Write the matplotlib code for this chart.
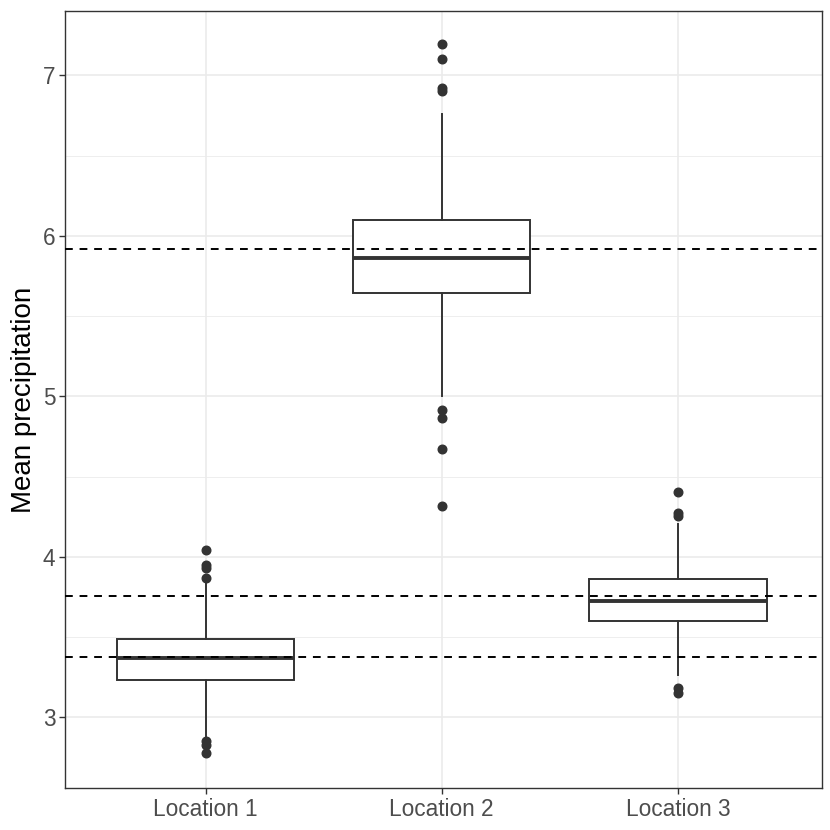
import numpy as np
import matplotlib
matplotlib.use("Agg")
import matplotlib.pyplot as plt

# values
locations = ["Location 1", "Location 2", "Location 3"]
q1 = [3.233, 5.642, 3.600]
medians = [3.367, 5.860, 3.725]
q3 = [3.488, 6.096, 3.862]
whisker_lo = [2.870, 5.002, 3.262]
whisker_hi = [3.856, 6.756, 4.206]
outliers = [
    [4.044, 3.950, 3.930, 3.870, 2.850, 2.830, 2.780],
    [7.196, 7.100, 6.920, 6.900, 4.914, 4.867, 4.669, 4.320],
    [4.402, 4.273, 4.252, 3.180, 3.155],
]
mean_lines = [5.919, 3.758, 3.377]

y_ticks = [3, 4, 5, 6, 7]
y_minor = [3.5, 4.5, 5.5, 6.5]

plt.rcParams["font.family"] = ["Liberation Sans", "DejaVu Sans"]

fig = plt.figure(figsize=(8.3, 8.3), dpi=100)
ax = fig.add_axes([0.0783, 0.0502, 0.9121, 0.9368])

positions = np.arange(1, len(locations) + 1)
stats = []
for i, name in enumerate(locations):
    stats.append({
        "label": name, "q1": q1[i], "med": medians[i], "q3": q3[i],
        "whislo": whisker_lo[i], "whishi": whisker_hi[i], "fliers": outliers[i],
    })

dark = "#333333"
ax.bxp(stats, positions=positions, widths=0.75, showcaps=False, patch_artist=True,
       boxprops=dict(facecolor="white", edgecolor=dark, linewidth=1.4),
       medianprops=dict(color=dark, linewidth=2.8, solid_capstyle="butt"),
       whiskerprops=dict(color=dark, linewidth=1.4),
       flierprops=dict(marker="o", markerfacecolor=dark, markeredgecolor=dark,
                       markersize=6.2, linestyle="none"),
       zorder=3)

for m in mean_lines:
    ax.axhline(m, color="black", linewidth=1.4, dashes=(4, 3.5), zorder=4)

ax.set_xlim(0.405, 3.61)
ax.set_ylim(2.558, 7.402)
ax.set_xticks(positions)
ax.set_xticklabels(locations)
ax.set_yticks(y_ticks)
ax.set_yticks(y_minor, minor=True)

# ggplot theme_bw look
ax.grid(True, which="major", color="#EBEBEB", linewidth=1.2, zorder=0)
ax.grid(True, which="minor", axis="y", color="#EBEBEB", linewidth=0.6, zorder=0)
ax.set_axisbelow(True)
for s in ax.spines.values():
    s.set_color(dark)
    s.set_linewidth(1.0)
ax.tick_params(which="major", length=4, width=1.0, color=dark,
               labelsize=16.3, labelcolor="#4D4D4D", pad=3)
ax.tick_params(which="minor", length=0)

ax.set_ylabel("Mean precipitation", fontsize=20, color="black", labelpad=4)

fig.savefig("out.png", dpi=100)
